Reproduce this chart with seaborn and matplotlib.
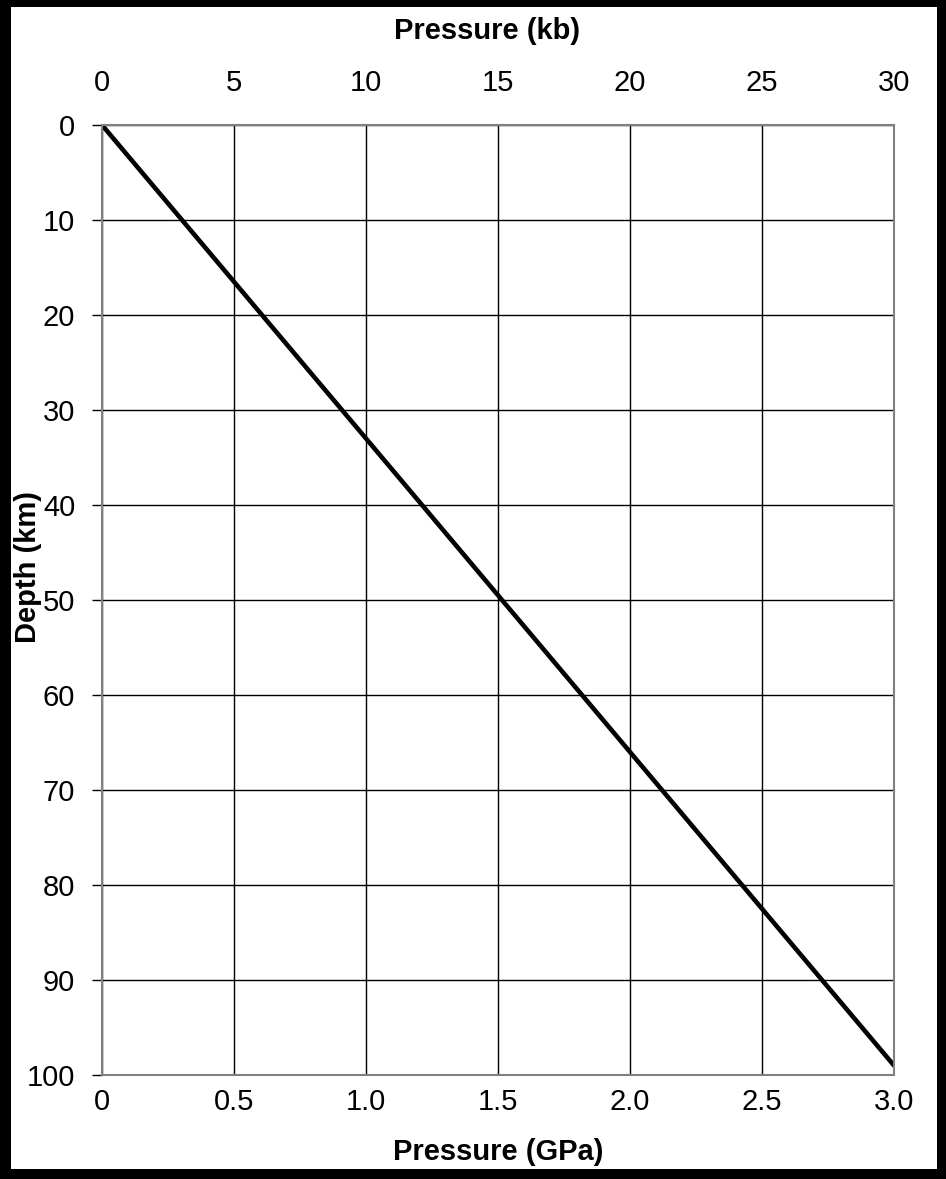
import matplotlib
matplotlib.use("Agg")
import matplotlib.pyplot as plt
from matplotlib.patches import Rectangle
import seaborn as sns
import pandas as pd

# Data
pressure_gpa = [0.0, 3.0]
depth_km = [0.0, 99.0]
gpa_ticks = [0, 0.5, 1.0, 1.5, 2.0, 2.5, 3.0]
gpa_labels = ["0", "0.5", "1.0", "1.5", "2.0", "2.5", "3.0"]
kb_ticks = [0, 5, 10, 15, 20, 25, 30]
depth_ticks = [0, 10, 20, 30, 40, 50, 60, 70, 80, 90, 100]

sns.set_style("white")
plt.rcParams['font.family'] = ['Liberation Sans', 'DejaVu Sans']
plt.rcParams['text.color'] = 'black'
plt.rcParams['axes.labelcolor'] = 'black'
plt.rcParams['xtick.color'] = 'black'
plt.rcParams['ytick.color'] = 'black'

W, H = 946, 1179
fig = plt.figure(figsize=(W / 100, H / 100), dpi=100, facecolor="black")
fig.patches.append(Rectangle((11 / W, 1 - 1169 / H), (937 - 11) / W, (1169 - 7) / H,
                             transform=fig.transFigure, facecolor="white",
                             edgecolor="none", zorder=-10))

ax = fig.add_axes([102 / W, 1 - 1075 / H, (894 - 102) / W, (1075 - 125) / H])
ax.set_zorder(5)
ax.set_facecolor("white")

df = pd.DataFrame({"P": pressure_gpa, "D": depth_km})
sns.lineplot(data=df, x="P", y="D", ax=ax, color="black", linewidth=3.3)

ax.set_xlim(0, 3.0)
ax.set_ylim(100, 0)
ax.set_xticks(gpa_ticks)
ax.set_xticklabels(gpa_labels)
ax.set_yticks(depth_ticks)
ax.grid(True, color="black", linewidth=1.0)
ax.set_axisbelow(True)

fs = 21
ax.tick_params(axis="x", length=0, labelsize=fs, pad=9.5)
ax.tick_params(axis="y", length=7.2, width=1, color="black", labelsize=fs, pad=12, left=True)
ax.set_xlabel("Pressure (GPa)", fontsize=fs, fontweight="bold", labelpad=16)
ax.set_ylabel("Depth (km)", fontsize=fs, fontweight="bold")
ax.yaxis.set_label_coords(-0.076, 0.535)

for s in ax.spines.values():
    s.set_color("#808080")
    s.set_linewidth(1.5)

sec = ax.secondary_xaxis("top", functions=(lambda x: x * 10, lambda x: x / 10))
sec.set_xticks(kb_ticks)
sec.tick_params(axis="x", length=0, labelsize=fs, pad=20)
sec.set_xlabel("Pressure (kb)", fontsize=fs, fontweight="bold", labelpad=22)
sec.xaxis.label.set_x(0.486)
sec.spines["top"].set_visible(False)

fig.savefig("out.png", dpi=100, facecolor="black")
